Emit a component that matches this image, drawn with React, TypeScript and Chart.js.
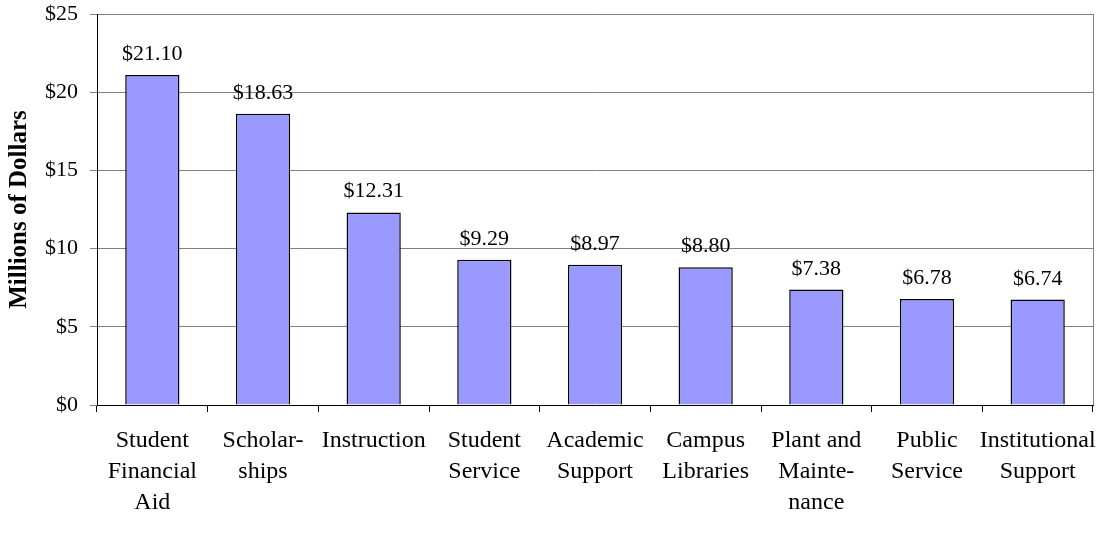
import React, { useEffect, useRef } from "react";
import { Chart, registerables } from "chart.js";

Chart.register(...registerables);

const categories: string[][] = [
  ["Student", "Financial", "Aid"],
  ["Scholar-", "ships"],
  ["Instruction"],
  ["Student", "Service"],
  ["Academic", "Support"],
  ["Campus", "Libraries"],
  ["Plant and", "Mainte-", "nance"],
  ["Public", "Service"],
  ["Institutional", "Support"],
];
const values: number[] = [21.1, 18.63, 12.31, 9.29, 8.97, 8.8, 7.38, 6.78, 6.74];
const yTicks: number[] = [0, 5, 10, 15, 20, 25];

const FONT = "'Liberation Serif', 'Times New Roman', serif";

const dataLabels = {
  id: "dataLabels",
  afterDatasetsDraw(chart: any) {
    const { ctx } = chart;
    const meta = chart.getDatasetMeta(0);
    ctx.save();
    ctx.font = `22px ${FONT}`;
    ctx.fillStyle = "#000";
    ctx.textAlign = "center";
    ctx.textBaseline = "alphabetic";
    meta.data.forEach((bar: any, i: number) => {
      ctx.fillText("$" + values[i].toFixed(2), bar.x, bar.y - 15);
    });
    ctx.restore();
  },
};

const frame = {
  id: "frame",
  beforeDatasetsDraw(chart: any) {
    const { ctx, chartArea } = chart;
    ctx.save();
    ctx.strokeStyle = "#808080";
    ctx.lineWidth = 1;
    ctx.beginPath();
    ctx.moveTo(chartArea.right + 0.5, chartArea.top);
    ctx.lineTo(chartArea.right + 0.5, chartArea.bottom);
    ctx.stroke();
    ctx.restore();
  },
};

function zeroPad(scale: any) {
  scale.paddingLeft = 0;
  scale.paddingRight = 0;
  scale.paddingTop = 0;
  scale.paddingBottom = 0;
}

export default function App() {
  const ref = useRef<HTMLCanvasElement | null>(null);
  useEffect(() => {
    if (!ref.current) return;
    const chart = new Chart(ref.current, {
      type: "bar",
      data: {
        labels: categories,
        datasets: [
          {
            data: values,
            backgroundColor: "#9999FF",
            borderColor: "#000000",
            borderWidth: 1.5,
            barPercentage: 0.49,
            categoryPercentage: 1,
          },
        ],
      },
      options: {
        animation: false,
        responsive: false,
        layout: { padding: { top: 14, right: 11, left: 0, bottom: 0 } },
        plugins: { legend: { display: false }, tooltip: { enabled: false } },
        scales: {
          x: {
            grid: {
              drawOnChartArea: false,
              drawTicks: true,
              tickLength: 7,
              color: "#000",
              offset: true,
            },
            border: { display: true, color: "#000", width: 1 },
            ticks: {
              color: "#000",
              font: { family: FONT, size: 24, lineHeight: 1.3 },
              maxRotation: 0,
              autoSkip: false,
              padding: 13,
            },
            afterFit(scale: any) {
              scale.height = 136;
              zeroPad(scale);
            },
          },
          y: {
            min: 0,
            max: 25,
            afterBuildTicks(scale: any) {
              scale.ticks = yTicks.map((v) => ({ value: v }));
            },
            grid: { color: "#808080", tickLength: 7, drawTicks: true },
            border: { display: true, color: "#000", width: 1 },
            ticks: {
              color: "#000",
              font: { family: FONT, size: 22 },
              padding: 12,
              callback: (v: any) => "$" + v,
            },
            title: {
              display: true,
              text: "Millions of Dollars",
              color: "#000",
              font: { family: FONT, size: 25, weight: "bold" },
              padding: { top: 5, bottom: 0 },
            },
            afterFit(scale: any) {
              scale.width = 97;
              zeroPad(scale);
            },
          },
        },
      },
      plugins: [dataLabels, frame],
    });
    return () => chart.destroy();
  }, []);
  return (
    <div style={{ position: "fixed", left: 0, top: 0, width: 1104, height: 541, background: "#fff" }}>
      <canvas ref={ref} width={1104} height={541} style={{ width: 1104, height: 541 }} />
    </div>
  );
}
